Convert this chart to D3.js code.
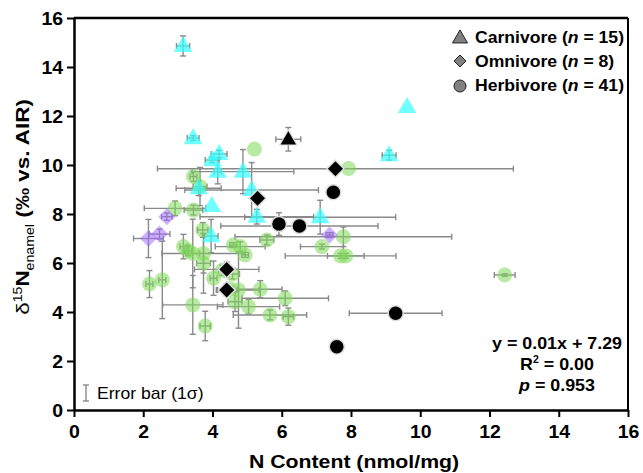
<!DOCTYPE html>
<html><head><meta charset="utf-8">
<script src="https://cdn.jsdelivr.net/npm/d3@7"></script>
<style>body{margin:0;background:#fff}svg{display:block}text{font-family:"Liberation Sans",Arial,sans-serif}</style>
</head><body><svg id="c" width="643" height="473"></svg>
<script>
// Carnivore (cyan triangles)
const carnX  = [3.15,3.44,9.62,9.10,4.19,3.99,4.15,4.88,5.13,3.60,3.98,5.28,7.11,3.96];
const carnY  = [14.86,11.10,12.37,10.40,10.45,10.20,9.73,9.73,8.98,9.05,8.33,7.89,7.87,7.10];
const carnXe = [0.19,0.17,0,0.2,0.23,0.2,0.1,1.47,1.93,0.65,0,1.64,2.18,0.2];
const carnYe = [0.41,0.1,0,0.2,0.15,0.1,0.5,0.9,1.12,0.3,0,0.3,0.69,0.68];
// Carnivore (black)
const carnBX = [6.19], carnBY = [11.05], carnBXe = [0.36], carnBYe = [0.48];
// Omnivore (purple diamonds)
const omniX  = [2.68,2.15,2.47,7.38];
const omniY  = [7.89,7.00,7.18,7.14];
const omniXe = [0.15,0.43,0.3,0.1];
const omniYe = [0.15,0.78,0.2,0.1];
// Omnivore (black)
const omniBX = [7.55,5.30,4.41,4.41], omniBY = [9.85,8.64,5.74,4.90];
const omniBXe = [5.14,0,0.93,0.3], omniBYe = [0,0,0.3,0.25];
// Herbivore (green circles)
const herbX  = [5.21,7.93,3.45,3.64,2.92,3.45,3.72,3.16,3.43,3.74,3.74,4.60,4.80,4.94,4.03,4.75,4.65,5.38,5.04,6.10,5.66,6.19,5.57,2.18,2.55,3.43,3.79,7.16,7.78,7.70,7.85,12.44,4.28,4.58,4.50,3.30];
const herbY  = [10.65,9.86,9.53,9.12,8.23,8.16,7.35,6.67,6.39,6.39,5.99,6.73,6.67,6.33,5.38,4.90,4.42,4.93,4.22,4.56,3.88,3.81,6.94,5.14,5.31,4.29,3.43,6.67,7.07,6.29,6.29,5.51,5.70,5.55,4.95,6.50];
const herbXe = [0,0,0.1,0.2,0.89,0.27,0.15,0.1,0.2,1.2,0.2,0.1,0.72,0.1,0.1,0.6,0.2,0.63,0.9,1.25,1.06,0.15,0.2,0.1,0.1,0.87,0.15,0.62,3.13,1.6,0.53,0.3,0.1,0.2,0.1,0.1];
const herbYe = [0,0,0.2,0.78,0.3,0.2,0.3,0.5,1.4,0.8,1.22,0.1,0.2,0.1,0.7,1.56,0.4,0.35,0.3,0.3,0.2,0.35,0.2,0.55,1.58,1.2,0.6,0.1,0.4,0.1,0.1,0.05,0.2,0.2,0.1,0.2];
// Herbivore (black)
const herbBX = [7.49,5.92,6.51,9.29,7.59], herbBY = [8.89,7.59,7.51,3.95,2.58];
const herbBXe = [0,0.1,2.27,1.34,0.15], herbBYe = [0,0.46,0.1,0,0.05];

const xTicks = [0,2,4,6,8,10,12,14,16];
const yTicks = [0,2,4,6,8,10,12,14,16];
const legendLabels = ["Carnivore","Omnivore","Herbivore"];
const legendN = [15,8,41];
const statLines = ["y = 0.01x + 7.29","R","p"];

const svg = d3.select("#c");
const L=74,R=628,T=18,B=410;
const x = d3.scaleLinear().domain([0,16]).range([L,R]);
const y = d3.scaleLinear().domain([0,16]).range([B,T]);

const zip=(X,Y,XE,YE)=>X.map((v,i)=>({x:v,y:Y[i],xe:XE[i],ye:YE[i]}));
const carn=zip(carnX,carnY,carnXe,carnYe), carnB=zip(carnBX,carnBY,carnBXe,carnBYe);
const omni=zip(omniX,omniY,omniXe,omniYe), omniB=zip(omniBX,omniBY,omniBXe,omniBYe);
const herb=zip(herbX,herbY,herbXe,herbYe), herbB=zip(herbBX,herbBY,herbBXe,herbBYe);
const all=[...herb,...omni,...carn,...carnB,...omniB,...herbB];

// frame
svg.append("line").attr("x1",L).attr("x2",R).attr("y1",T).attr("y2",T).attr("stroke","#000").attr("stroke-width",2.5);
svg.append("line").attr("x1",R).attr("x2",R).attr("y1",T).attr("y2",B).attr("stroke","#000").attr("stroke-width",2);

// error bars
const eb=svg.append("g").attr("stroke","#8a8a8a").attr("stroke-width",1.4).attr("fill","none");
const cap=3;
all.forEach(d=>{
  if(d.xe>0){
    const x0=x(d.x-d.xe),x1=x(d.x+d.xe),yy=y(d.y);
    eb.append("line").attr("x1",x0).attr("x2",x1).attr("y1",yy).attr("y2",yy);
    eb.append("line").attr("x1",x0).attr("x2",x0).attr("y1",yy-cap).attr("y2",yy+cap);
    eb.append("line").attr("x1",x1).attr("x2",x1).attr("y1",yy-cap).attr("y2",yy+cap);
  }
  if(d.ye>0){
    const y0=y(d.y-d.ye),y1=y(d.y+d.ye),xx=x(d.x);
    eb.append("line").attr("x1",xx).attr("x2",xx).attr("y1",y0).attr("y2",y1);
    eb.append("line").attr("x1",xx-cap).attr("x2",xx+cap).attr("y1",y0).attr("y2",y0);
    eb.append("line").attr("x1",xx-cap).attr("x2",xx+cap).attr("y1",y1).attr("y2",y1);
  }
});

const tri=(s)=>`M0,${-s*0.62}L${s*0.58},${s*0.38}L${-s*0.58},${s*0.38}Z`;
const dia=(s)=>`M0,${-s}L${s},0L0,${s}L${-s},0Z`;

svg.append("g").selectAll("circle").data(herb).join("circle")
  .attr("cx",d=>x(d.x)).attr("cy",d=>y(d.y)).attr("r",7.5)
  .attr("fill","#7ed957").attr("fill-opacity",0.55);
svg.append("g").selectAll("path").data(omni).join("path")
  .attr("transform",d=>`translate(${x(d.x)},${y(d.y)})`).attr("d",dia(8.5))
  .attr("fill","#a066ff").attr("fill-opacity",0.5);
svg.append("g").selectAll("path").data(carn).join("path")
  .attr("transform",d=>`translate(${x(d.x)},${y(d.y)})`).attr("d",tri(16))
  .attr("fill","#33ffff").attr("fill-opacity",0.7);

// black markers
svg.append("g").selectAll("path").data(carnB).join("path")
  .attr("transform",d=>`translate(${x(d.x)},${y(d.y)})`).attr("d",tri(15))
  .attr("fill","#000").attr("stroke","#ddd").attr("stroke-width",1.2);
svg.append("g").selectAll("path").data(omniB).join("path")
  .attr("transform",d=>`translate(${x(d.x)},${y(d.y)})`).attr("d",dia(8.5))
  .attr("fill","#000").attr("stroke","#ddd").attr("stroke-width",1.5);
svg.append("g").selectAll("circle").data(herbB).join("circle")
  .attr("cx",d=>x(d.x)).attr("cy",d=>y(d.y)).attr("r",7.5)
  .attr("fill","#000").attr("stroke","#ddd").attr("stroke-width",1.5);

// axes
const xa=svg.append("g").attr("transform",`translate(0,${B})`)
  .call(d3.axisBottom(x).tickValues(xTicks).tickSize(7).tickSizeOuter(0).tickFormat(d3.format("d")));
const ya=svg.append("g").attr("transform",`translate(${L},0)`)
  .call(d3.axisLeft(y).tickValues(yTicks).tickSize(7).tickSizeOuter(0).tickFormat(d3.format("d")));
[xa,ya].forEach(a=>{
  a.select(".domain").attr("stroke","#000").attr("stroke-width",2.5);
  a.selectAll(".tick line").attr("stroke","#000").attr("stroke-width",2);
  a.selectAll(".tick text").attr("fill","#000").attr("font-size",18).attr("font-weight","bold")
   .attr("font-family","'Liberation Sans',Arial,sans-serif");
});
xa.selectAll(".tick text").attr("y",0).attr("dy",0).attr("transform","translate(0,28) scale(1.08,1)");
ya.selectAll(".tick text").attr("x",0).attr("dy",0).attr("transform","translate(-11,6.5) scale(1.08,1)");

// helper for horizontally-stretched text
function stext(px,py,sx,anchor){
  return svg.append("g").attr("transform",`translate(${px},${py}) scale(${sx},1)`)
    .append("text").attr("text-anchor",anchor||"start");
}

// axis titles
stext(354,468,1.12,"middle").attr("font-size",19).attr("font-weight","bold").text("N Content (nmol/mg)");
const ytg=svg.append("g").attr("transform",`translate(29,${207}) rotate(-90) scale(1.18,1)`);
const yt=ytg.append("text").attr("text-anchor","middle").attr("font-size",19).attr("font-weight","bold");
yt.append("tspan").attr("font-weight","normal").text("δ");
yt.append("tspan").attr("font-size",12).attr("dy",-7).attr("font-weight","normal").text("15");
yt.append("tspan").attr("dy",7).text("N");
yt.append("tspan").attr("font-size",12).attr("dy",5).attr("font-weight","normal").text("enamel");
yt.append("tspan").attr("dy",-5).text(" (‰ vs. AIR)");

// legend
const legY=[37,61,85];
legendLabels.forEach((lab,i)=>{
  const cx=460, cy=legY[i];
  const shape = i===0? svg.append("path").attr("d",tri(13)).attr("transform",`translate(${cx},${cy+1})`)
              : i===1? svg.append("path").attr("d",dia(6)).attr("transform",`translate(${cx},${cy})`)
              : svg.append("circle").attr("cx",cx).attr("cy",cy+1).attr("r",6);
  shape.attr("fill","#808080").attr("stroke","#222").attr("stroke-width",1);
  const t=stext(475,cy+6,1.1).attr("font-size",16).attr("font-weight","bold");
  t.append("tspan").text(lab+" (");
  t.append("tspan").attr("font-style","italic").text("n");
  t.append("tspan").text(" = "+legendN[i]+")");
});

// stats
const sx=557;
stext(sx,349,1.05,"middle").attr("font-size",17).attr("font-weight","bold").text(statLines[0]);
const r2=stext(sx,370,1.05,"middle").attr("font-size",17).attr("font-weight","bold");
r2.append("tspan").text("R");
r2.append("tspan").attr("font-size",10).attr("dy",-7).text("2");
r2.append("tspan").attr("dy",7).text(" = 0.00");
const pt=stext(sx,391,1.05,"middle").attr("font-size",17).attr("font-weight","bold");
pt.append("tspan").attr("font-style","italic").text("p");
pt.append("tspan").text(" = 0.953");

// error bar legend
const ex=86;
const eg=svg.append("g").attr("stroke","#8a8a8a").attr("stroke-width",1.4);
eg.append("line").attr("x1",ex).attr("x2",ex).attr("y1",385).attr("y2",401);
eg.append("line").attr("x1",ex-3).attr("x2",ex+3).attr("y1",385).attr("y2",385);
eg.append("line").attr("x1",ex-3).attr("x2",ex+3).attr("y1",401).attr("y2",401);
stext(97,399,1.1).attr("font-size",16).text("Error bar (1σ)");
</script></body></html>
